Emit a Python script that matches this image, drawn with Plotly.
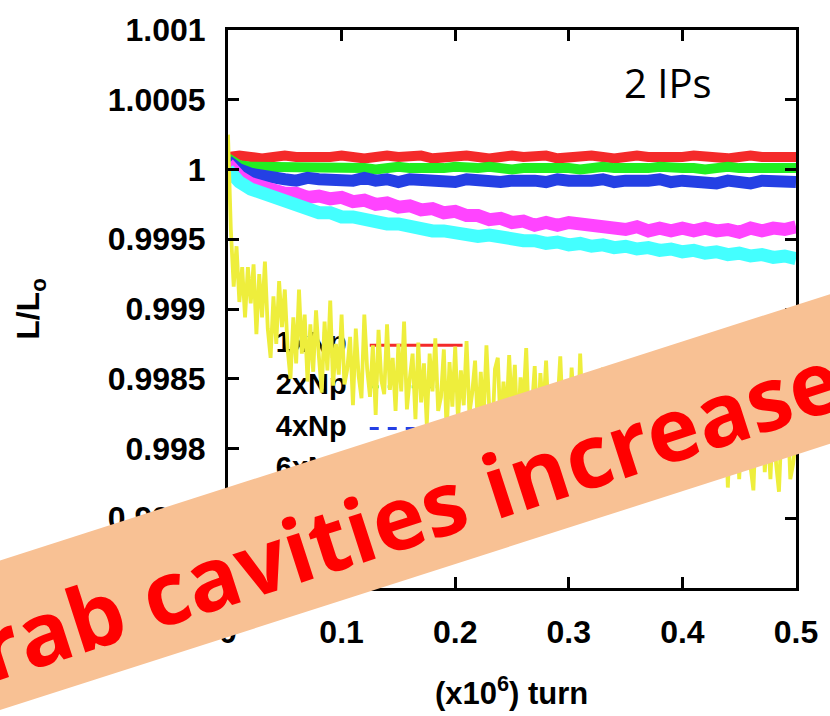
import plotly.graph_objects as go

# ---------------- data ----------------
turns = [round(i * 0.01, 2) for i in range(51)]          # (x10^6) turn
turns_yellow = [round(i * 0.0025, 4) for i in range(201)]

lum_1xNp = [1.00009, 1.00010, 1.00009, 1.00008, 1.00009, 1.00010, 1.00009, 1.00009, 1.00008, 1.00009,
            1.00010, 1.00009, 1.00008, 1.00009, 1.00010, 1.00009, 1.00009, 1.00010, 1.00008, 1.00009,
            1.00009, 1.00010, 1.00009, 1.00008, 1.00009, 1.00010, 1.00009, 1.00009, 1.00010, 1.00008,
            1.00009, 1.00009, 1.00010, 1.00009, 1.00008, 1.00009, 1.00010, 1.00009, 1.00009, 1.00008,
            1.00009, 1.00010, 1.00009, 1.00009, 1.00008, 1.00009, 1.00010, 1.00009, 1.00009, 1.00008,
            1.00009]

lum_2xNp = [1.00008, 1.00003, 1.00002, 1.00002, 1.00001, 1.00002, 1.00001, 1.00001, 1.00002, 1.00001,
            1.00001, 1.00002, 1.00001, 1.00000, 1.00001, 1.00002, 1.00001, 1.00001, 1.00000, 1.00001,
            1.00002, 1.00001, 1.00001, 1.00002, 1.00001, 1.00000, 1.00001, 1.00001, 1.00002, 1.00001,
            1.00001, 1.00000, 1.00001, 1.00002, 1.00001, 1.00001, 1.00000, 1.00001, 1.00002, 1.00001,
            1.00001, 1.00001, 1.00000, 1.00001, 1.00002, 1.00001, 1.00001, 1.00000, 1.00001, 1.00001,
            1.00001]

lum_4xNp = [1.00006, 1.00000, 0.99997, 0.99995, 0.99994, 0.99993, 0.99992, 0.99994, 0.99993, 0.99992,
            0.99993, 0.99992, 0.99994, 0.99992, 0.99993, 0.99991, 0.99993, 0.99992, 0.99993, 0.99992,
            0.99991, 0.99993, 0.99992, 0.99993, 0.99991, 0.99992, 0.99993, 0.99992, 0.99991, 0.99993,
            0.99992, 0.99991, 0.99992, 0.99993, 0.99991, 0.99992, 0.99991, 0.99992, 0.99993, 0.99991,
            0.99992, 0.99991, 0.99992, 0.99990, 0.99992, 0.99991, 0.99990, 0.99992, 0.99991, 0.99990,
            0.99991]

lum_6xNp = [1.00004, 0.99995, 0.99990, 0.99987, 0.99986, 0.99983, 0.99983, 0.99980, 0.99981, 0.99979,
            0.99980, 0.99977, 0.99978, 0.99975, 0.99976, 0.99973, 0.99974, 0.99971, 0.99972, 0.99969,
            0.99970, 0.99967, 0.99967, 0.99964, 0.99965, 0.99962, 0.99963, 0.99960, 0.99962, 0.99960,
            0.99962, 0.99961, 0.99962, 0.99959, 0.99960, 0.99957, 0.99959, 0.99956, 0.99958, 0.99956,
            0.99958, 0.99956, 0.99958, 0.99956, 0.99957, 0.99955, 0.99958, 0.99956, 0.99958, 0.99957,
            0.99959]

lum_8xNp = [1.00000, 0.99991, 0.99986, 0.99983, 0.99979, 0.99977, 0.99973, 0.99972, 0.99969, 0.99969,
            0.99966, 0.99966, 0.99964, 0.99963, 0.99961, 0.99961, 0.99959, 0.99958, 0.99956, 0.99956,
            0.99954, 0.99954, 0.99952, 0.99953, 0.99951, 0.99951, 0.99949, 0.99949, 0.99947, 0.99948,
            0.99946, 0.99947, 0.99945, 0.99946, 0.99944, 0.99945, 0.99943, 0.99944, 0.99942, 0.99943,
            0.99941, 0.99942, 0.99940, 0.99941, 0.99939, 0.99940, 0.99938, 0.99939, 0.99937, 0.99938,
            0.99936]

lum_10xNp = [1.00025, 0.99957, 0.99916, 0.99945, 0.99905, 0.99930, 0.99894, 0.99930, 0.99904, 0.99932,
             0.99882, 0.99925, 0.99894, 0.99934, 0.99886, 0.99865, 0.99909, 0.99875, 0.99920, 0.99887,
             0.99914, 0.99871, 0.99850, 0.99894, 0.99861, 0.99914, 0.99868, 0.99896, 0.99848, 0.99889,
             0.99855, 0.99899, 0.99866, 0.99840, 0.99891, 0.99856, 0.99906, 0.99845, 0.99875, 0.99853,
             0.99896, 0.99846, 0.99857, 0.99880, 0.99831, 0.99886, 0.99852, 0.99836, 0.99896, 0.99857,
             0.99837, 0.99874, 0.99824, 0.99885, 0.99849, 0.99839, 0.99889, 0.99842, 0.99865, 0.99827,
             0.99875, 0.99841, 0.99891, 0.99828, 0.99850, 0.99868, 0.99821, 0.99876, 0.99833, 0.99861,
             0.99817, 0.99868, 0.99841, 0.99879, 0.99827, 0.99837, 0.99871, 0.99811, 0.99862, 0.99830,
             0.99873, 0.99820, 0.99856, 0.99831, 0.99877, 0.99825, 0.99840, 0.99863, 0.99813, 0.99855,
             0.99821, 0.99874, 0.99828, 0.99806, 0.99857, 0.99865, 0.99814, 0.99848, 0.99821, 0.99867,
             0.99825, 0.99860, 0.99807, 0.99851, 0.99832, 0.99872, 0.99814, 0.99828, 0.99859, 0.99808,
             0.99854, 0.99825, 0.99863, 0.99816, 0.99799, 0.99845, 0.99830, 0.99866, 0.99817, 0.99849,
             0.99808, 0.99858, 0.99824, 0.99802, 0.99868, 0.99818, 0.99837, 0.99809, 0.99850, 0.99796,
             0.99844, 0.99811, 0.99858, 0.99819, 0.99804, 0.99848, 0.99792, 0.99836, 0.99812, 0.99852,
             0.99806, 0.99858, 0.99813, 0.99798, 0.99839, 0.99819, 0.99848, 0.99789, 0.99833, 0.99805,
             0.99844, 0.99793, 0.99828, 0.99807, 0.99854, 0.99798, 0.99811, 0.99838, 0.99787, 0.99830,
             0.99794, 0.99845, 0.99802, 0.99822, 0.99780, 0.99836, 0.99806, 0.99846, 0.99796, 0.99811,
             0.99829, 0.99788, 0.99847, 0.99796, 0.99805, 0.99836, 0.99772, 0.99823, 0.99790, 0.99837,
             0.99778, 0.99823, 0.99798, 0.99834, 0.99787, 0.99770, 0.99826, 0.99799, 0.99838, 0.99783,
             0.99815, 0.99778, 0.99826, 0.99789, 0.99769, 0.99820, 0.99794, 0.99831, 0.99778, 0.99789,
             0.99808]

series_labels = ["1xNp", "2xNp", "4xNp", "6xNp", "8xNp", "10xNp"]

x_tickvals = [0, 0.1, 0.2, 0.3, 0.4, 0.5]
x_ticktext = ["0", "0.1", "0.2", "0.3", "0.4", "0.5"]
y_tickvals = [0.997, 0.9975, 0.998, 0.9985, 0.999, 0.9995, 1.0, 1.0005, 1.001]
y_ticktext = ["0.997", "0.9975", "0.998", "0.9985", "0.999", "0.9995", "1", "1.0005", "1.001"]

assert len(lum_1xNp) == len(turns) and len(lum_2xNp) == len(turns)
assert len(lum_4xNp) == len(turns) and len(lum_6xNp) == len(turns)
assert len(lum_8xNp) == len(turns) and len(lum_10xNp) == len(turns_yellow)

# ---------------- layout / style ----------------
W, H = 830, 716
L, R, T, B = 228, 797, 25, 588          # plot-area pixel box
XR = [0, 0.5]
YR = [0.997, 1.001]

def px2x(px):
    return XR[0] + (px - L) / (R - L) * (XR[1] - XR[0])

def py2y(py):
    return YR[1] - (py - T) / (B - T) * (YR[1] - YR[0])

def paper_x(px):
    return (px - L) / (R - L)

def paper_y(py):
    return (B - py) / (B - T)

colors = ["#F42A2A", "#22EE22", "#2440E4", "#FF44FF", "#44FFFF", "#EEEE3C"]
dashes = ["solid", "dot", "dash", "dashdot", "longdash", "solid"]
TICKFONT = dict(family="Liberation Sans, Arial, sans-serif", size=32, color="black", weight="bold")

fig = go.Figure()

# key (gnuplot style: label then sample), drawn under the data
key_rows_px = [343, 385, 427, 469, 511, 553]
fig.add_trace(go.Scatter(
    x=[px2x(347)] * len(series_labels), y=[py2y(p) for p in key_rows_px],
    mode="text", text=series_labels, textposition="middle left",
    textfont=dict(family="Liberation Sans, Arial, sans-serif", size=29, color="black", weight="bold"),
    showlegend=False, hoverinfo="skip"))
for lab, c, d, p in zip(series_labels, colors, dashes, key_rows_px):
    fig.add_trace(go.Scatter(
        x=[px2x(370), px2x(463)], y=[py2y(p), py2y(p)], mode="lines",
        line=dict(color=c, width=3, dash=d), showlegend=False, hoverinfo="skip"))

smooth = [lum_1xNp, lum_2xNp, lum_4xNp, lum_6xNp, lum_8xNp]
widths = [10, 10, 12, 13, 13]
for lab, vals, c, w in zip(series_labels[:5], smooth, colors[:5], widths):
    fig.add_trace(go.Scatter(x=turns, y=vals, mode="lines", name=lab,
                             line=dict(color=c, width=w), showlegend=False))
fig.add_trace(go.Scatter(x=turns_yellow, y=lum_10xNp, mode="lines", name=series_labels[5],
                         line=dict(color=colors[5], width=3.8), showlegend=False))

axis_common = dict(showline=True, linewidth=3, linecolor="black", mirror="ticks",
                   ticks="inside", ticklen=11, tickwidth=3, tickcolor="black",
                   showgrid=False, zeroline=False, tickfont=TICKFONT)
fig.update_xaxes(range=XR, tickvals=x_tickvals, ticktext=x_ticktext,
                 ticklabelstandoff=14, **axis_common)
fig.update_yaxes(range=YR, tickvals=y_tickvals, ticktext=y_ticktext,
                 ticklabelstandoff=13, **axis_common)

# banner
up0, up_slope = 560, -0.323
lo0 = 711
xa, xb = -150, 980
path = "M {} {} L {} {} L {} {} L {} {} Z".format(
    paper_x(xa), paper_y(up0 + up_slope * xa),
    paper_x(xb), paper_y(up0 + up_slope * xb),
    paper_x(xb), paper_y(lo0 + up_slope * xb),
    paper_x(xa), paper_y(lo0 + up_slope * xa))
fig.add_shape(type="path", path=path, xref="paper", yref="paper",
              fillcolor="#F8C194", line=dict(width=0), layer="above")

annotations = [
    dict(text="2 IPs", x=paper_x(669), y=paper_y(78), xref="paper", yref="paper",
         showarrow=False, xanchor="center", yanchor="middle",
         font=dict(family="Open Sans, sans-serif", size=40, color="black")),
    dict(text="L/L<sub>o</sub>", x=paper_x(30), y=paper_y(306), xref="paper", yref="paper",
         showarrow=False, textangle=-90, xanchor="center", yanchor="middle",
         font=dict(family="Liberation Sans, Arial, sans-serif", size=32, color="black", weight="bold")),
    dict(text="(x10<sup>6</sup>) turn", x=paper_x(512), y=paper_y(692), xref="paper", yref="paper",
         showarrow=False, xanchor="center", yanchor="middle",
         font=dict(family="Liberation Sans, Arial, sans-serif", size=31, color="black", weight="bold")),
    dict(text="Crab cavities increase", x=paper_x(382), y=paper_y(520), xref="paper", yref="paper",
         showarrow=False, textangle=-17.9, xanchor="center", yanchor="middle",
         font=dict(family="Open Sans, sans-serif", size=88, color="#FF0000", weight="bold")),
]

fig.update_layout(width=W, height=H, margin=dict(l=L, r=W - R, t=T, b=H - B),
                  paper_bgcolor="white", plot_bgcolor="white", showlegend=False,
                  annotations=annotations)

fig.write_html("out.html")
